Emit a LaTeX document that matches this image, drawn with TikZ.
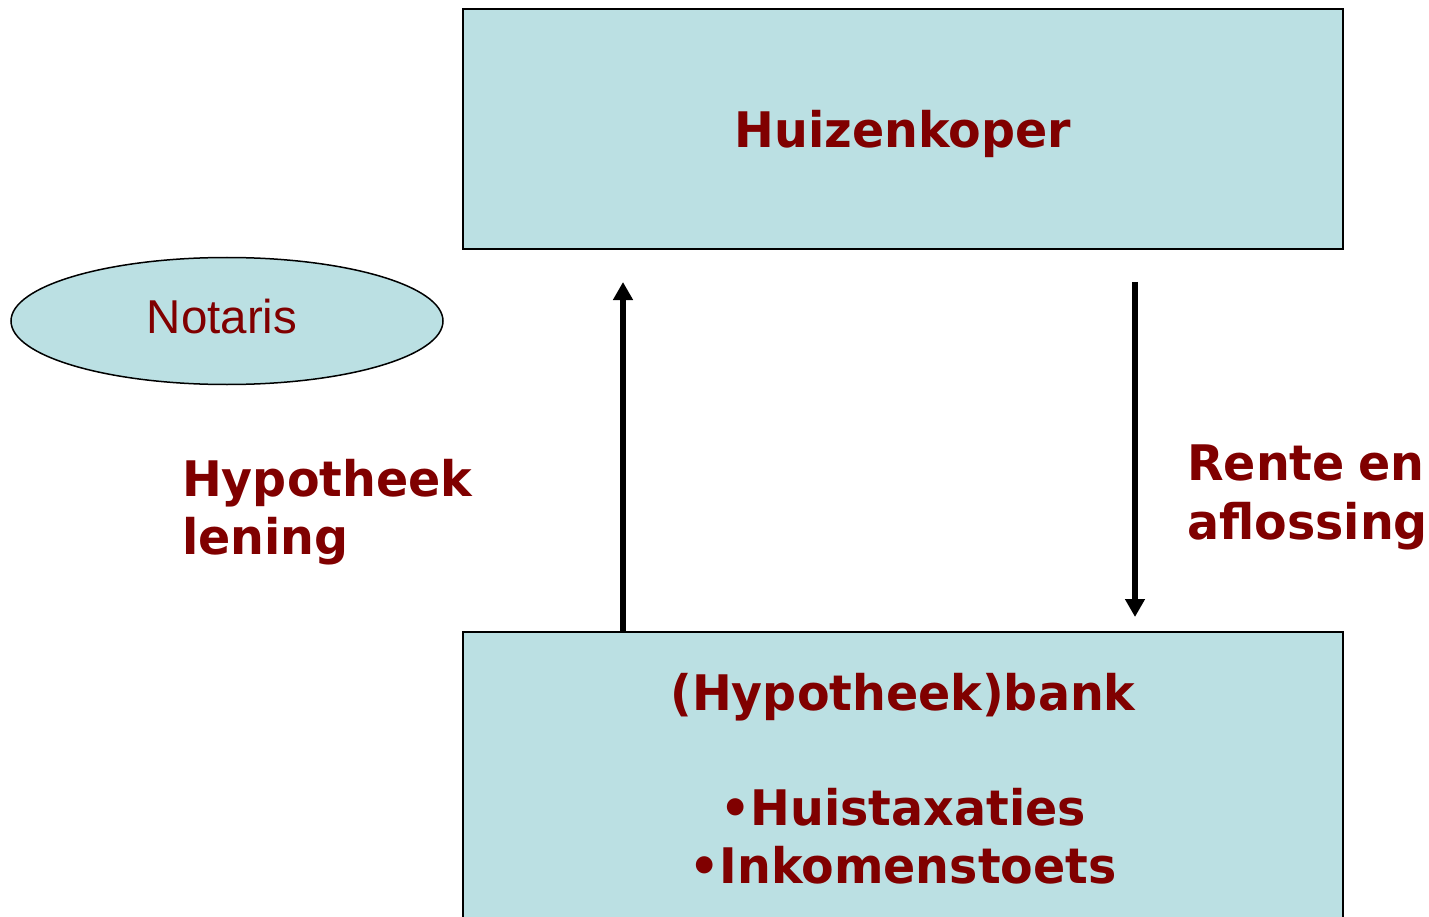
\documentclass[tikz,border=0pt]{standalone}
\usepackage{fontspec}
\setmainfont[FakeStretch=0.97]{DejaVu Sans}
\newfontfamily\arialf{Liberation Sans}
\usetikzlibrary{shapes.geometric,arrows.meta}
\definecolor{boxfill}{RGB}{187,224,227}
\definecolor{txtred}{RGB}{128,0,0}
\tikzset{
  box/.style={draw=black,line width=2pt,fill=boxfill},
  lbl/.style={text=txtred,font=\bfseries\fontsize{49}{58}\selectfont,inner sep=0pt},
  flow/.style={line width=5.5pt,-{Triangle[width=19pt,length=18pt]}}
}
\begin{document}
\begin{tikzpicture}[x=1pt,y=-1pt]
\useasboundingbox (0,0) rectangle (1429,917);
\clip (0,0) rectangle (1429,917);
\draw[box] (463,9) rectangle (1343,249);
\node[lbl,anchor=base] (hk) at (903,148) {Huizenkoper};
\draw[box] (463,632) rectangle (1343,940);
\node[lbl,anchor=base] (hb) at (903,710) {(Hypotheek)bank};
\node[lbl,anchor=base] (t1) at (903,825) {•Huistaxaties};
\node[lbl,anchor=base] (t2) at (903,883) {•Inkomenstoets};
\node[draw=black,line width=1.5pt,fill=boxfill,ellipse,minimum width=432pt,minimum height=127pt,inner sep=0pt] (not) at (227,321) {};
\node[text=txtred,font=\arialf\fontsize{47.5}{56}\selectfont,anchor=base,inner sep=0pt] at (222,333) {Notaris};
\coordinate (upS) at (623,632);
\coordinate (upE) at (623,282);
\coordinate (dnS) at (1135,282);
\coordinate (dnE) at (1135,617);
\draw[flow] (upS) -- (upE);
\draw[flow] (dnS) -- (dnE);
\node[lbl,anchor=base west,align=left] (hl1) at (182,496) {Hypotheek};
\node[lbl,anchor=base west] (hl2) at (182,554) {lening};
\node[lbl,anchor=base west] (re1) at (1187,480) {Rente\hspace{0.28em}en};
\node[lbl,anchor=base west] (re2) at (1187,539) {aflossing};
\end{tikzpicture}
\end{document}
